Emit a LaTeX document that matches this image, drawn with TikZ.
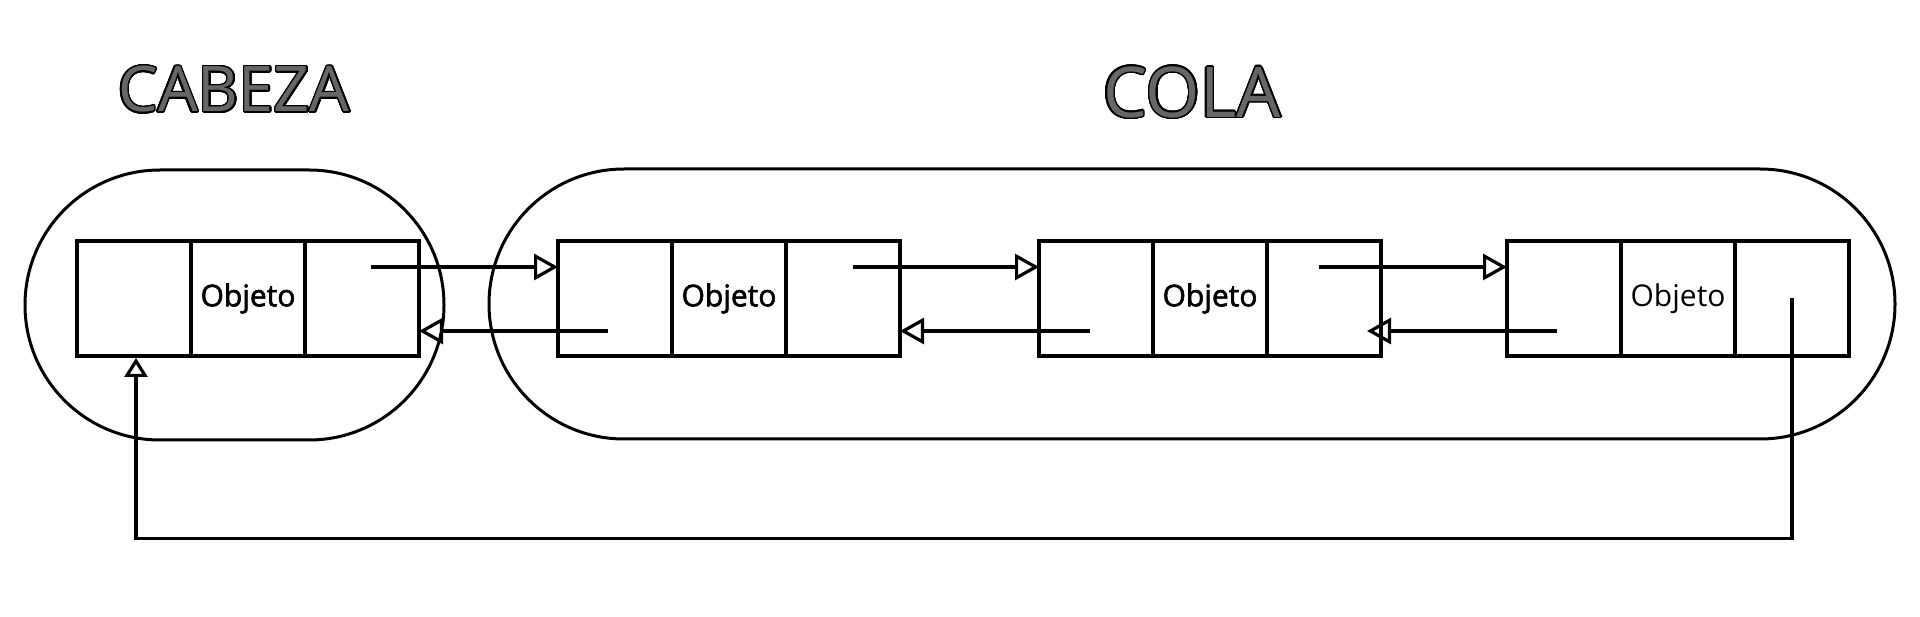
\documentclass[tikz,border=0pt]{standalone}
\usepackage{fontspec}
\setmainfont{Open Sans}
\newfontfamily\objfont[FakeBold=2]{Open Sans}
\usepackage{contour}
\contournumber{32}
\contourlength{1.4pt}
\usetikzlibrary{arrows.meta,calc}
\definecolor{titlegray}{HTML}{666666}
\begin{document}
\begin{tikzpicture}[x=1pt,y=-1pt,
  cell/.style={draw, line width=3.2pt, minimum width=114pt, minimum height=115pt,
    inner sep=0pt, outer sep=0pt, font=\fontsize{30}{36}\selectfont},
  obj/.style={font=\objfont\fontsize{30}{36}\selectfont},
  group/.style={draw, line width=3pt, rounded corners=135pt, minimum height=270pt,
    inner sep=0pt, outer sep=0pt},
  link/.style={line width=3.2pt, -{Triangle[open, length=24pt, width=26pt, line width=3.2pt]}},
  uplink/.style={line width=3.2pt, -{Triangle[open, length=19pt, width=23pt, line width=3.2pt]}},
  title/.style={inner sep=0pt}]
\useasboundingbox (0,0) rectangle (1920,617);

% titles
\node[title, font=\fontsize{63}{70}\selectfont] (tHead) at (234,90) {\color{titlegray}\contour{black}{CABEZA}};
\node[title, font=\fontsize{70}{76}\selectfont] (tTail) at (1192,93) {\color{titlegray}\contour{black}{COLA}};

% groups
\node[group, minimum width=419pt] (gHead) at (234.5,305) {};
\node[group, minimum width=1406pt] (gTail) at (1192,304) {};

% boxes
\node[cell] (b1a) at (134,298.5) {};
\node[cell, obj] (b1b) at (248,298.5) {Objeto};
\node[cell] (b1c) at (362,298.5) {};

\node[cell] (b2a) at (615,298.5) {};
\node[cell, obj] (b2b) at (729,298.5) {Objeto};
\node[cell] (b2c) at (843,298.5) {};

\node[cell] (b3a) at (1096,298.5) {};
\node[cell, obj] (b3b) at (1210,298.5) {Objeto};
\node[cell] (b3c) at (1324,298.5) {};

\node[cell] (b4a) at (1564,298.5) {};
\node[cell] (b4b) at (1678,298.5) {Objeto};
\node[cell] (b4c) at (1792,298.5) {};

% forward links
\coordinate (f1) at (371,267);
\coordinate (f2) at (853,267);
\coordinate (f3) at (1319,267);
\draw[link] (f1) -- (f1 -| b2a.west);
\draw[link] (f2) -- (f2 -| b3a.west);
\draw[link] (f3) -- (f3 -| b4a.west);

% backward links
\coordinate (r2) at (608,331);
\coordinate (r3) at (1090,331);
\coordinate (r4) at (1557,331);
\draw[link] (r2) -- (r2 -| b1c.east);
\draw[link] (r3) -- (r3 -| b2c.east);
\draw[link] (r4) -- ($(r4 -| b3c.east)+(-14,0)$);

% return link
\draw[uplink] (b4c.center) -- ++(0,240) -| ($(b1a.south)+(2,2)$);
\end{tikzpicture}
\end{document}
